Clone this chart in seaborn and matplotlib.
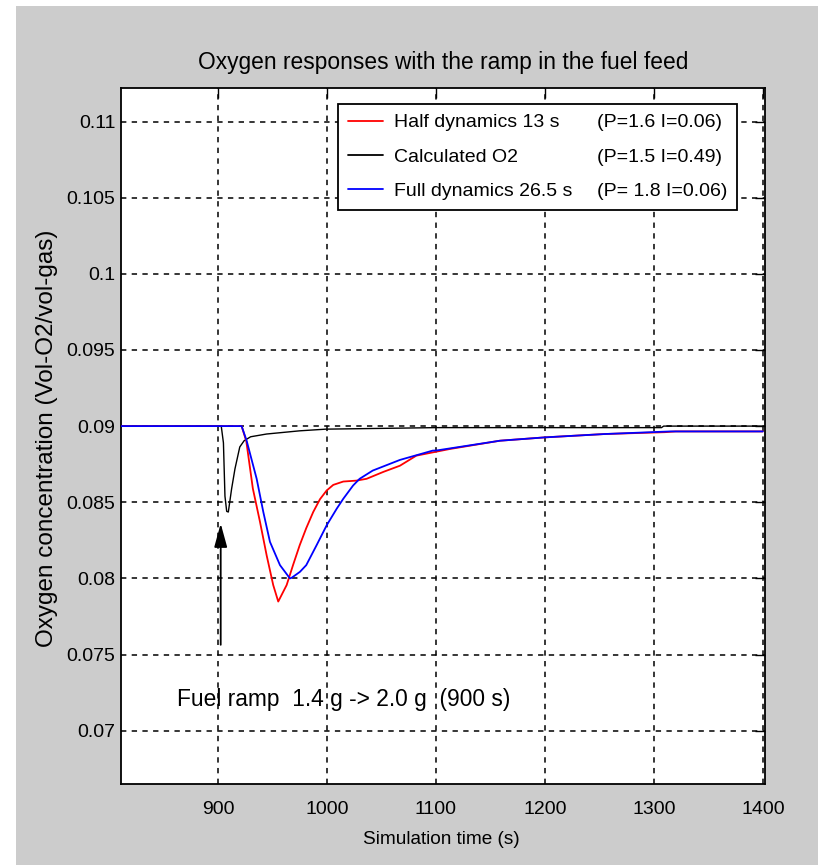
import numpy as np
import pandas as pd
import matplotlib
matplotlib.use("Agg")
import matplotlib.pyplot as plt
from matplotlib.lines import Line2D
from matplotlib.patches import Rectangle
import seaborn as sns

# ---------------- data ----------------
t_half = [810, 900, 921.7, 926, 932, 938.5, 944.7, 950.7, 955.3, 963, 969, 975, 981,
          987.4, 993.6, 999.7, 1005.8, 1015, 1027, 1036.4, 1052, 1067, 1082, 1113,
          1158.7, 1200, 1255, 1310, 1320, 1400]
v_half = [0.0900, 0.0900, 0.0900, 0.0890, 0.0859, 0.08373, 0.0815, 0.07956, 0.07848,
          0.07956, 0.0809, 0.08218, 0.0833, 0.08436, 0.0852, 0.08577, 0.08614, 0.08636,
          0.08642, 0.08654, 0.0870, 0.0874, 0.08806, 0.0885, 0.08904, 0.08926, 0.08948,
          0.0896, 0.08965, 0.08965]

t_calc = [810, 903, 905, 906.4, 908, 909.5, 912.5, 915.6, 920, 924, 930, 944.6, 975,
          999, 1050, 1100, 1307, 1309, 1400]
v_calc = [0.0900, 0.0900, 0.0889, 0.0854, 0.0844, 0.08436, 0.08588, 0.0872, 0.08863,
          0.08904, 0.0893, 0.08948, 0.08969, 0.0898, 0.08985, 0.0899, 0.0899, 0.0900,
          0.0900]

t_full = [810, 900, 921.7, 926.3, 935.5, 941.6, 947.7, 956.9, 966, 967.6, 975.2, 981,
          990.5, 999.7, 1009, 1015, 1024, 1030, 1042, 1067, 1097, 1100.6, 1158.7, 1200,
          1255, 1315, 1400]
v_full = [0.0900, 0.0900, 0.0900, 0.08904, 0.08654, 0.08436, 0.0824, 0.08087, 0.0800,
          0.08004, 0.08043, 0.08087, 0.08218, 0.08348, 0.08458, 0.08523, 0.0861, 0.08654,
          0.08708, 0.08778, 0.08839, 0.0884, 0.08904, 0.08926, 0.08948, 0.08965, 0.08965]

legend_names = ["Half dynamics 13 s", "Calculated O2", "Full dynamics 26.5 s"]
legend_params = ["(P=1.6 I=0.06)", "(P=1.5 I=0.49)", "(P= 1.8 I=0.06)"]

x_ticks = [900, 1000, 1100, 1200, 1300, 1400]
y_ticks = [0.07, 0.075, 0.08, 0.085, 0.09, 0.095, 0.1, 0.105, 0.11]
y_tick_labels = ["0.07", "0.075", "0.08", "0.085", "0.09", "0.095", "0.1", "0.105", "0.11"]

arrow_x = 902.5
arrow_y = [0.07564, 0.0836]
annot_text = "Fuel ramp  1.4 g -> 2.0 g  (900 s)"

# ---------------- style ----------------
sns.set_style("white")
FONT = ["Liberation Sans Narrow", "Liberation Sans", "DejaVu Sans"]
plt.rcParams["font.family"] = FONT
for k in ["text.color", "axes.labelcolor", "xtick.color", "ytick.color"]:
    plt.rcParams[k] = "black"

W, H = 818, 865
fig = plt.figure(figsize=(W / 100, H / 100), dpi=100)
fig.patch.set_facecolor("white")
bg = Rectangle((16 / W, 0), 1 - 16 / W, 1 - 6 / H, transform=fig.transFigure,
               facecolor="#cccccc", edgecolor="none", zorder=-10)
fig.add_artist(bg)

ax = fig.add_axes([121 / W, 1 - 784 / H, (765 - 121) / W, (784 - 88) / H])
ax.set_zorder(1)
ax.set_facecolor("white")

df = pd.concat([
    pd.DataFrame({"t": t_calc, "v": v_calc, "series": legend_names[1]}),
    pd.DataFrame({"t": t_half, "v": v_half, "series": legend_names[0]}),
    pd.DataFrame({"t": t_full, "v": v_full, "series": legend_names[2]}),
])
colors = {legend_names[0]: "#ff0000", legend_names[1]: "#000000", legend_names[2]: "#0000ff"}
widths = {legend_names[0]: 1.3, legend_names[1]: 1.0, legend_names[2]: 1.3}
for name in [legend_names[1], legend_names[0], legend_names[2]]:
    sub = df[df["series"] == name]
    sns.lineplot(data=sub, x="t", y="v", color=colors[name], lw=widths[name],
                 estimator=None, sort=False, ax=ax, legend=False, zorder=3)

ax.set_xlim(811, 1402)
ax.set_ylim(0.0665, 0.1122)
ax.set_xticks(x_ticks)
ax.set_xticklabels([str(v) for v in x_ticks])
ax.set_yticks(y_ticks)
ax.set_yticklabels(y_tick_labels)
ax.tick_params(direction="in", length=7, width=1, top=True, right=True,
               labelsize=14, colors="black")
ax.tick_params(axis="x", pad=12)
ax.tick_params(axis="y", pad=4)
ax.grid(True, color="black", linestyle=(0, (3.5, 3.5)), linewidth=1.1)
for s in ax.spines.values():
    s.set_visible(True)
    s.set_color("black")
    s.set_linewidth(1.3)

ax.set_title("Oxygen responses with the ramp in the fuel feed", fontsize=16.4, pad=14)
ax.set_xlabel("Simulation time (s)", fontsize=13.7)
ax.xaxis.set_label_coords(0.497, -0.067)
ax.set_ylabel("Oxygen concentration (Vol-O2/vol-gas)", fontsize=17.5)
ax.yaxis.set_label_coords(-0.098, 0.496)

ax.annotate("", xy=(arrow_x, arrow_y[1]), xytext=(arrow_x, arrow_y[0]),
            arrowprops=dict(arrowstyle="-|>,head_length=0.8,head_width=0.22", color="black",
                            lw=1.3, mutation_scale=18, shrinkA=0, shrinkB=0), zorder=4)
ax.text(862, 0.07163, annot_text, fontsize=16.4, ha="left", va="baseline", zorder=4)

handles = [Line2D([], [], color=colors[n], lw=1.3) for n in legend_names]
blank = [Line2D([], [], color="none") for _ in legend_names]
leg = ax.legend(handles + blank, legend_names + legend_params, ncol=2,
                loc="upper right", bbox_to_anchor=((737 - 121) / 644, (784 - 104) / 696),
                borderaxespad=0, fontsize=14, frameon=True, fancybox=False,
                edgecolor="black", framealpha=1, handlelength=1.8, handletextpad=0.57,
                columnspacing=-1.1, labelspacing=0.86, borderpad=0.5)
leg.get_frame().set_linewidth(1.3)
leg.set_zorder(10)

fig.savefig("out.png", dpi=100, facecolor=fig.get_facecolor())
